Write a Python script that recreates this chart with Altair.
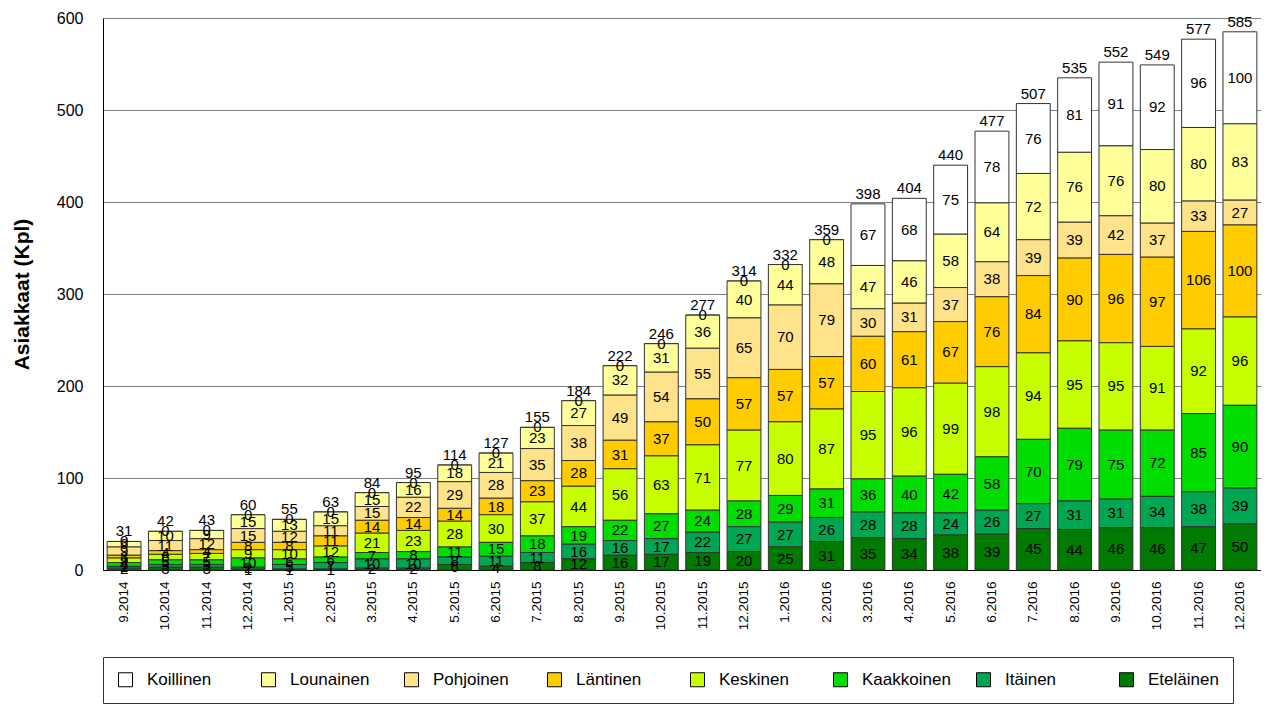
import altair as alt
import pandas as pd

months = ["9.2014", "10.2014", "11.2014", "12.2014", "1.2015", "2.2015", "3.2015",
          "4.2015", "5.2015", "6.2015", "7.2015", "8.2015", "9.2015", "10.2015",
          "11.2015", "12.2015", "1.2016", "2.2016", "3.2016", "4.2016", "5.2016",
          "6.2016", "7.2016", "8.2016", "9.2016", "10.2016", "11.2016", "12.2016"]

regions = ["Koillinen", "Lounainen", "Pohjoinen", "Läntinen", "Keskinen",
           "Kaakkoinen", "Itäinen", "Eteläinen"]
colors = ["#FFFFFF", "#FFFF99", "#FFE38A", "#FFCC00", "#C8FF00",
          "#00DD00", "#00A651", "#007A00"]

etelainen = [2, 3, 3, 1, 1, 1, 2, 2, 6, 4, 8, 12, 16, 17, 19, 20, 25, 31, 35, 34, 38, 39, 45, 44, 46, 46, 47, 50]
itainen = [2, 3, 3, 2, 5, 7, 10, 10, 8, 11, 11, 16, 16, 17, 22, 27, 27, 26, 28, 28, 24, 26, 27, 31, 31, 34, 38, 39]
kaakkoinen = [4, 5, 5, 10, 6, 6, 7, 8, 11, 15, 18, 19, 22, 27, 24, 28, 29, 31, 36, 40, 42, 58, 70, 79, 75, 72, 85, 90]
keskinen = [5, 6, 7, 9, 10, 12, 21, 23, 28, 30, 37, 44, 56, 63, 71, 77, 80, 87, 95, 96, 99, 98, 94, 95, 95, 91, 92, 96]
lantinen = [3, 4, 4, 8, 8, 11, 14, 14, 14, 18, 23, 28, 31, 37, 50, 57, 57, 57, 60, 61, 67, 76, 84, 90, 96, 97, 106, 100]
pohjoinen = [9, 11, 12, 15, 12, 11, 15, 22, 29, 28, 35, 38, 49, 54, 55, 65, 70, 79, 30, 31, 37, 38, 39, 39, 42, 37, 33, 27]
lounainen = [6, 10, 9, 15, 13, 15, 15, 16, 18, 21, 23, 27, 32, 31, 36, 40, 44, 48, 47, 46, 58, 64, 72, 76, 76, 80, 80, 83]
koillinen = [0, 0, 0, 0, 0, 0, 0, 0, 0, 0, 0, 0, 0, 0, 0, 0, 0, 0, 67, 68, 75, 78, 76, 81, 91, 92, 96, 100]

series = {
    "Koillinen": koillinen, "Lounainen": lounainen, "Pohjoinen": pohjoinen,
    "Läntinen": lantinen, "Keskinen": keskinen, "Kaakkoinen": kaakkoinen,
    "Itäinen": itainen, "Eteläinen": etelainen,
}

rows = []
for r in regions:
    rank = len(regions) - 1 - regions.index(r)  # Eteläinen = 0 (bottom)
    for m, v in zip(months, series[r]):
        rows.append({"month": m, "region": r, "value": v, "rank": rank})
df = pd.DataFrame(rows)

FONT = "Liberation Sans"

x_enc = alt.X("month:N", sort=months,
              scale=alt.Scale(paddingInner=0.18, paddingOuter=0.1),
              axis=alt.Axis(title=None, labelAngle=270, ticks=False,
                            labelFontSize=13.5, labelPadding=11, labelColor="black",
                            domainColor="black"))

base = alt.Chart(df).transform_stack(
    stack="value", groupby=["month"], as_=["y0", "y1"],
    sort=[alt.SortField("rank", order="ascending")]
).transform_calculate(mid="(datum.y0 + datum.y1) / 2")

bars = base.mark_bar(stroke="#333333", strokeWidth=1).encode(
    x=x_enc,
    y=alt.Y("y0:Q", scale=alt.Scale(domain=[0, 600], nice=False),
            axis=alt.Axis(title="Asiakkaat (Kpl)", values=[0, 100, 200, 300, 400, 500, 600],
                          ticks=False, labelFontSize=16, labelPadding=20,
                          titleFontSize=21, titleFontWeight="bold", titlePadding=24,
                          labelColor="black", titleColor="black", domainColor="black",
                          gridColor="#808080", gridWidth=1)),
    y2="y1:Q",
    color=alt.Color("region:N",
                    scale=alt.Scale(domain=regions, range=colors),
                    legend=alt.Legend(title=None, orient="none", legendX=0, legendY=639,
                                      direction="horizontal", columns=8, gridAlign="all",
                                      columnPadding=23, padding=14,
                                      strokeColor="#333333", fillColor="white",
                                      symbolType="square", symbolSize=196,
                                      symbolStrokeColor="black", symbolStrokeWidth=1,
                                      labelFontSize=17, labelFont=FONT, labelColor="black",
                                      labelOffset=13)),
)

labels = base.mark_text(font=FONT, fontSize=15, color="black", baseline="middle").encode(
    x=alt.X("month:N", sort=months),
    y=alt.Y("mid:Q"),
    text=alt.Text("value:Q"),
)

totals = alt.Chart(df).transform_aggregate(
    total="sum(value)", groupby=["month"]
).mark_text(font=FONT, fontSize=15, color="black", baseline="bottom", dy=-2).encode(
    x=alt.X("month:N", sort=months),
    y=alt.Y("total:Q"),
    text=alt.Text("total:Q"),
)

chart = alt.layer(bars, labels, totals).properties(
    width=1158, height=552,
    padding={"left": 3, "top": 2, "right": 0, "bottom": 0},
).configure_view(stroke="black", strokeWidth=1).configure_axis(
    labelFont=FONT, titleFont=FONT
).configure(background="white")

chart.save("out.html", embed_options={"renderer": "svg", "actions": False})
